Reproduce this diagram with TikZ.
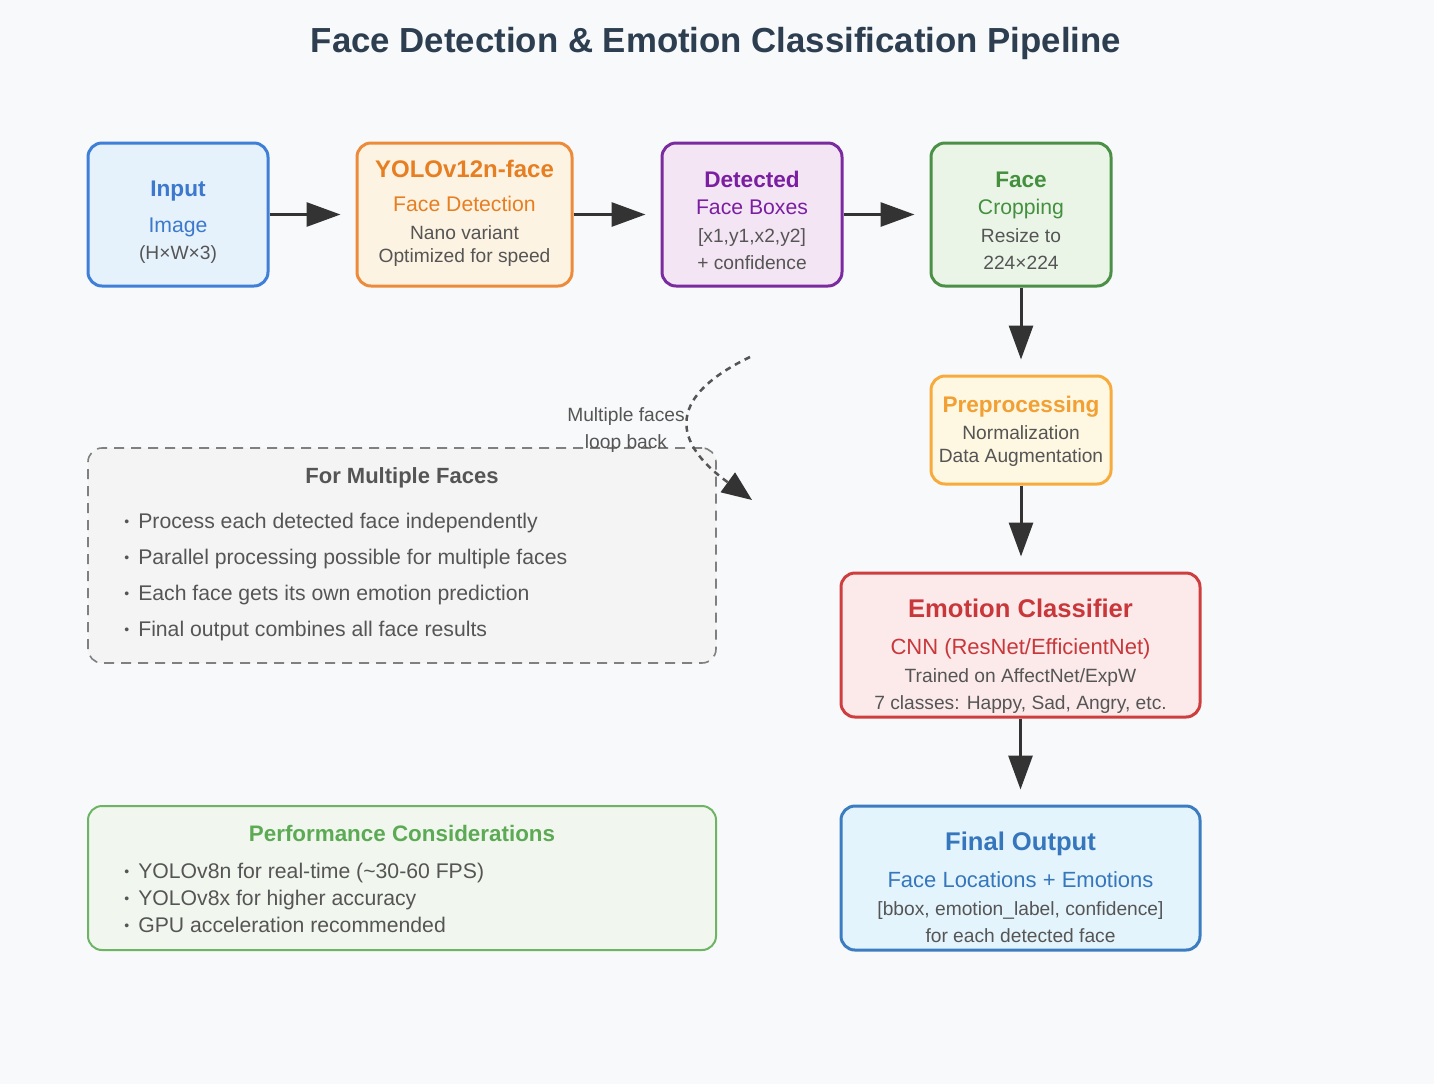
\documentclass[tikz,border=0pt]{standalone}
\usepackage{fontspec}
\setmainfont{Liberation Sans}
\usetikzlibrary{arrows.meta}

\definecolor{bgc}{HTML}{F8F9FA}
\definecolor{titlec}{HTML}{2C3E50}
\definecolor{arrowc}{HTML}{333333}
\definecolor{grayt}{HTML}{555555}
\definecolor{inB}{HTML}{3F7FD8}\definecolor{inF}{HTML}{E5F1FB}\definecolor{inT}{HTML}{3C78CC}
\definecolor{yoB}{HTML}{EC8B3B}\definecolor{yoF}{HTML}{FDF3E2}\definecolor{yoT}{HTML}{E67E22}
\definecolor{deB}{HTML}{7B2BA0}\definecolor{deF}{HTML}{F3E5F4}\definecolor{deT}{HTML}{7B1FA2}
\definecolor{crB}{HTML}{4C8F47}\definecolor{crF}{HTML}{EAF5E8}\definecolor{crT}{HTML}{44903F}
\definecolor{prB}{HTML}{F7AB3D}\definecolor{prF}{HTML}{FEF7E1}\definecolor{prT}{HTML}{F2A033}
\definecolor{emB}{HTML}{CF3E3E}\definecolor{emF}{HTML}{FCEAEB}\definecolor{emT}{HTML}{C8373A}
\definecolor{fiB}{HTML}{3C7DC2}\definecolor{fiF}{HTML}{E4F4FC}\definecolor{fiT}{HTML}{3576BD}
\definecolor{muB}{HTML}{808080}\definecolor{muF}{HTML}{F4F4F4}
\definecolor{peB}{HTML}{6DB565}\definecolor{peF}{HTML}{F1F6EF}\definecolor{peT}{HTML}{5DAA55}

\newcommand{\fsz}[1]{\fontsize{#1}{#1}\selectfont}
\newcommand{\bul}{\raisebox{0.8pt}{\fsz{7}•}\hspace{4.5pt}}

\begin{document}
\begin{tikzpicture}[x=0.5pt,y=-0.5pt,
  box/.style={draw, rounded corners=7pt, line width=1.5pt, inner sep=0pt},
  txt/.style={inner sep=0pt, anchor=mid, align=center},
  item/.style={inner sep=0pt, anchor=mid west, text=grayt, font=\fsz{10.6}},
  arr/.style={draw=arrowc, line width=1.5pt, -{Triangle[length=17pt,width=12pt]}, shorten >=7.5pt},
  loopline/.style={draw=grayt, line width=1.25pt, dash pattern=on 3pt off 2.5pt,
    -{Triangle[length=15pt,width=12pt,color=arrowc]}, fill=none}]

% canvas
\fill[bgc] (0,0) rectangle (1434,1084);
\useasboundingbox (0,0) rectangle (1434,1084);

% title
\node[txt, font=\bfseries\fsz{17.4}, text=titlec] (title) at (716,47)
  {Face Detection \& Emotion Classification Pipeline};

% pipeline boxes
\node[box, draw=inB, fill=inF, minimum width=90pt, minimum height=71.5pt] (input) at (178,214.5) {};
\node[box, draw=yoB, fill=yoF, minimum width=107.5pt, minimum height=71.5pt] (yolo) at (464.5,214.5) {};
\node[box, draw=deB, fill=deF, minimum width=90pt, minimum height=71.5pt] (det) at (752,214.5) {};
\node[box, draw=crB, fill=crF, minimum width=90pt, minimum height=71.5pt] (crop) at (1021,214.5) {};
\node[box, draw=prB, fill=prF, minimum width=90pt, minimum height=54pt] (prep) at (1021,430) {};
\node[box, draw=emB, fill=emF, minimum width=179.5pt, minimum height=72pt] (emo) at (1020.5,645) {};
\node[box, draw=fiB, fill=fiF, minimum width=179.5pt, minimum height=72pt] (fin) at (1020.5,878) {};

% side panels
\node[draw=muB, fill=muF, line width=0.8pt, dash pattern=on 5pt off 3.5pt, rounded corners=7pt,
  inner sep=0pt, minimum width=314pt, minimum height=107.5pt] (multi) at (402,555.5) {};
\node[draw=peB, fill=peF, line width=1pt, rounded corners=7pt,
  inner sep=0pt, minimum width=314pt, minimum height=72pt] (perf) at (402,878) {};

% box texts
\node[txt, font=\bfseries\fsz{11.3}, text=inT] (inputA) at (178,191) {Input};
\node[txt, font=\fsz{10.6}, text=inT] (inputB) at (178,227) {Image};
\node[txt, font=\fsz{9.6}, text=grayt] (inputC) at (178,254) {(H×W×3)};

\node[txt, font=\bfseries\fsz{12}, text=yoT] (yoloA) at (464.5,172) {YOLOv12n-face};
\node[txt, font=\fsz{10.6}, text=yoT] (yoloB) at (464.5,206) {Face Detection};
\node[txt, font=\fsz{9.6}, text=grayt] (yoloC) at (464.5,234) {Nano variant};
\node[txt, font=\fsz{9.6}, text=grayt] (yoloD) at (464.5,257) {Optimized for speed};

\node[txt, font=\bfseries\fsz{11.3}, text=deT] (detA) at (752,182) {Detected};
\node[txt, font=\fsz{10.6}, text=deT] (detB) at (752,209) {Face Boxes};
\node[txt, font=\fsz{9.6}, text=grayt] (detC) at (752,237) {[x1,y1,x2,y2]};
\node[txt, font=\fsz{9.6}, text=grayt] (detD) at (752,264) {+ confidence};

\node[txt, font=\bfseries\fsz{11.3}, text=crT] (cropA) at (1021,182) {Face};
\node[txt, font=\fsz{10.6}, text=crT] (cropB) at (1021,209) {Cropping};
\node[txt, font=\fsz{9.6}, text=grayt] (cropC) at (1021,237) {Resize to};
\node[txt, font=\fsz{9.6}, text=grayt] (cropD) at (1021,264) {224×224};

\node[txt, font=\bfseries\fsz{11.3}, text=prT] (prepA) at (1021,407) {Preprocessing};
\node[txt, font=\fsz{9.6}, text=grayt] (prepB) at (1021,434) {Normalization};
\node[txt, font=\fsz{9.6}, text=grayt] (prepC) at (1021,457) {Data Augmentation};

\node[txt, font=\bfseries\fsz{12.8}, text=emT] (emoA) at (1020.5,612) {Emotion Classifier};
\node[txt, font=\fsz{11}, text=emT] (emoB) at (1020.5,649) {CNN (ResNet/EfficientNet)};
\node[txt, font=\fsz{9.6}, text=grayt] (emoC) at (1020.5,677) {Trained on AffectNet/ExpW};
\node[txt, font=\fsz{9.6}, text=grayt] (emoD) at (1020.5,704) {7 classes: Happy, Sad, Angry, etc.};

\node[txt, font=\bfseries\fsz{12.8}, text=fiT] (finA) at (1020.5,845) {Final Output};
\node[txt, font=\fsz{11}, text=fiT] (finB) at (1020.5,882) {Face Locations + Emotions};
\node[txt, font=\fsz{9.6}, text=grayt] (finC) at (1020.5,910) {[bbox, emotion\_label, confidence]};
\node[txt, font=\fsz{9.6}, text=grayt] (finD) at (1020.5,937) {for each detected face};

% panel texts
\node[txt, font=\bfseries\fsz{11}, text=grayt] (multiA) at (402,478) {For Multiple Faces};
\node[item] (multiB) at (124,523) {\bul Process each detected face independently};
\node[item] (multiC) at (124,559) {\bul Parallel processing possible for multiple faces};
\node[item] (multiD) at (124,595) {\bul Each face gets its own emotion prediction};
\node[item] (multiE) at (124,631) {\bul Final output combines all face results};

\node[txt, font=\bfseries\fsz{11.2}, text=peT] (perfA) at (402,836) {Performance Considerations};
\node[item] (perfB) at (124,873) {\bul YOLOv8n for real-time (\textasciitilde 30-60 FPS)};
\node[item] (perfC) at (124,900) {\bul YOLOv8x for higher accuracy};
\node[item] (perfD) at (124,927) {\bul GPU acceleration recommended};

% pipeline connectors
\draw[arr] (input) -- (yolo);
\draw[arr] (yolo) -- (det);
\draw[arr] (det) -- (crop);
\draw[arr] (crop) -- (prep);
\draw[arr] (prep.south) -- (prep.south |- emo.north);
\draw[arr] (emo) -- (fin);

% loop-back hint for several faces
\coordinate (loopS) at (750,357);
\coordinate (loopE) at (752,500);
\draw[loopline] (loopS) .. controls (640,410) and (700,462) .. (loopE);
\node[txt, font=\fsz{9.6}, text=grayt] (loopA) at (626,416) {Multiple faces};
\node[txt, font=\fsz{9.6}, text=grayt] (loopB) at (626,443) {loop back};

\end{tikzpicture}
\end{document}
